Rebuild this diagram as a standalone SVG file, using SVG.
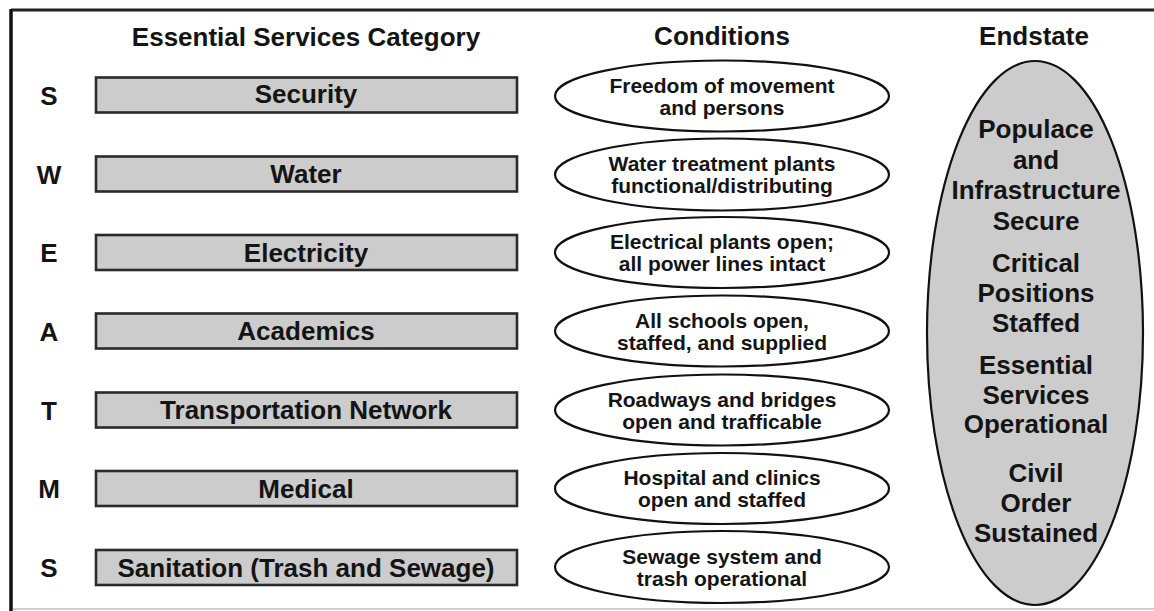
<svg xmlns="http://www.w3.org/2000/svg" width="1154" height="611" viewBox="0 0 1154 611">
<style>
text{font-family:"Liberation Sans",Arial,sans-serif;font-weight:bold;fill:#141414;text-anchor:middle}
.hd{font-size:26px}
.lt{font-size:26px}
.bx{fill:#cccccc;stroke:#2a2a2a;stroke-width:2.6}
.bt{font-size:26px}
.ce{fill:#ffffff;stroke:#111111;stroke-width:2.2}
.ct{font-size:21px}
.es{fill:#cccccc;stroke:#111111;stroke-width:2.2}
.et{font-size:26px}
</style>
<rect x="0" y="0" width="1154" height="611" fill="#ffffff"/>
<g id="frame">
<line x1="11" y1="10" x2="1154" y2="10" stroke="#222" stroke-width="3"/>
<line x1="11" y1="9" x2="11" y2="611" stroke="#111" stroke-width="3.5"/>
<line x1="13" y1="609" x2="1154" y2="609" stroke="#cfcfcf" stroke-width="2"/>
</g>
<g id="headers">
<text class="hd" x="306" y="46">Essential Services Category</text>
<text class="hd" x="722" y="45">Conditions</text>
<text class="hd" x="1034" y="45">Endstate</text>
</g>
<g id="row-security">
<text class="lt" x="49" y="104.5">S</text>
<rect class="bx" x="96" y="77.5" width="421" height="35"/>
<text class="bt" x="306" y="103">Security</text>
</g>
<g id="row-water">
<text class="lt" x="49" y="183.5">W</text>
<rect class="bx" x="96" y="156.5" width="421" height="35"/>
<text class="bt" x="306" y="183">Water</text>
</g>
<g id="row-electricity">
<text class="lt" x="49" y="262">E</text>
<rect class="bx" x="96" y="235" width="421" height="35"/>
<text class="bt" x="306" y="261.5">Electricity</text>
</g>
<g id="row-academics">
<text class="lt" x="49" y="340.5">A</text>
<rect class="bx" x="96" y="313.5" width="421" height="35"/>
<text class="bt" x="306" y="340">Academics</text>
</g>
<g id="row-transportation">
<text class="lt" x="49" y="419.5">T</text>
<rect class="bx" x="96" y="392.5" width="421" height="35"/>
<text class="bt" x="306" y="419">Transportation Network</text>
</g>
<g id="row-medical">
<text class="lt" x="49" y="498">M</text>
<rect class="bx" x="96" y="471" width="421" height="35"/>
<text class="bt" x="306" y="497.5">Medical</text>
</g>
<g id="row-sanitation">
<text class="lt" x="49" y="577">S</text>
<rect class="bx" x="96" y="550" width="421" height="35"/>
<text class="bt" x="306" y="576.5">Sanitation (Trash and Sewage)</text>
</g>
<g id="cond-security">
<ellipse class="ce" cx="722" cy="96" rx="167" ry="35.5"/>
<text class="ct" x="722" y="92.5">Freedom of movement</text>
<text class="ct" x="722" y="114.5">and persons</text>
</g>
<g id="cond-water">
<ellipse class="ce" cx="722" cy="174.5" rx="167" ry="36"/>
<text class="ct" x="722" y="171">Water treatment plants</text>
<text class="ct" x="722" y="193">functional/distributing</text>
</g>
<g id="cond-electricity">
<ellipse class="ce" cx="722" cy="252.5" rx="167" ry="35.5"/>
<text class="ct" x="722" y="249">Electrical plants open;</text>
<text class="ct" x="722" y="271">all power lines intact</text>
</g>
<g id="cond-academics">
<ellipse class="ce" cx="722" cy="331" rx="167" ry="35.5"/>
<text class="ct" x="722" y="327.5">All schools open,</text>
<text class="ct" x="722" y="349.5">staffed, and supplied</text>
</g>
<g id="cond-transportation">
<ellipse class="ce" cx="722" cy="410" rx="167" ry="35.5"/>
<text class="ct" x="722" y="406.5">Roadways and bridges</text>
<text class="ct" x="722" y="428.5">open and trafficable</text>
</g>
<g id="cond-medical">
<ellipse class="ce" cx="722" cy="488.5" rx="167" ry="35.5"/>
<text class="ct" x="722" y="485">Hospital and clinics</text>
<text class="ct" x="722" y="507">open and staffed</text>
</g>
<g id="cond-sanitation">
<ellipse class="ce" cx="722" cy="567" rx="167" ry="36"/>
<text class="ct" x="722" y="563.5">Sewage system and</text>
<text class="ct" x="722" y="585.5">trash operational</text>
</g>
<g id="endstate">
<ellipse class="es" cx="1035" cy="333" rx="108" ry="272"/>
<text class="et" x="1036" y="138">Populace</text>
<text class="et" x="1036" y="168.5">and</text>
<text class="et" x="1036" y="199">Infrastructure</text>
<text class="et" x="1036" y="229.5">Secure</text>
<text class="et" x="1036" y="272">Critical</text>
<text class="et" x="1036" y="302">Positions</text>
<text class="et" x="1036" y="332">Staffed</text>
<text class="et" x="1036" y="374">Essential</text>
<text class="et" x="1036" y="404">Services</text>
<text class="et" x="1036" y="433">Operational</text>
<text class="et" x="1036" y="482">Civil</text>
<text class="et" x="1036" y="512">Order</text>
<text class="et" x="1036" y="542">Sustained</text>
</g>
<g id="connectors"/>
</svg>
